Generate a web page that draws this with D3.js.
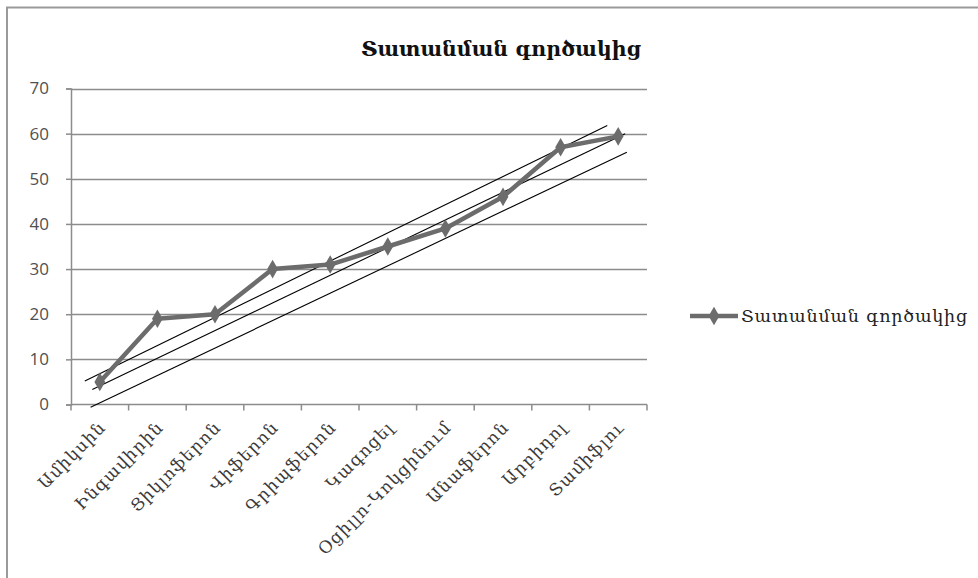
<!DOCTYPE html>
<html>
<head>
<meta charset="utf-8">
<script src="https://cdn.jsdelivr.net/npm/d3@7"></script>
<style>
  html, body { margin: 0; padding: 0; background: #fff; }
  svg { display: block; }
  .arm { font-family: "DejaVu Serif", "DejaVu Sans", serif; }
</style>
</head>
<body>
<svg id="chart" width="978" height="578"></svg>
<script>
// Drug names along the category axis
const categories = [
  "Ամիկսին", "Ինգավիրին", "Ցիկլոֆերոն", "Վիֆերոն", "Գրիպֆերոն",
  "Կագոցել", "Օցիլլո-Կոկցինում", "Անաֆերոն", "Արբիդոլ", "Տամիֆլու"
];
// Coefficient of variation per drug
const values = [5, 19, 20, 30, 31, 35, 39, 46, 57, 59.4];
const yTicks = [0, 10, 20, 30, 40, 50, 60, 70];
const seriesName = "Տատանման գործակից";
const titleText = "Տատանման գործակից";
// Hand-drawn guide lines: [category position, value] end points
const guideUpper = [[-0.26, 5.2], [8.81, 61.8]];
const guideMiddle = [[-0.13, 3.3], [9.12, 60.0]];
const guideLower = [[-0.16, -0.6], [9.15, 55.9]];

const svg = d3.select("#chart");
const plot = { left: 71, right: 647, top: 88.5, bottom: 404.5 };

// outer frame (only the top-left part falls inside the view)
svg.append("rect")
  .attr("x", 7).attr("y", 7.5).attr("width", 1000).attr("height", 600)
  .attr("fill", "none").attr("stroke", "#9a9a9a").attr("stroke-width", 2);

const band = d3.scaleBand().domain(categories).range([plot.left, plot.right]);
const xPos = d3.scaleLinear().domain([0, categories.length - 1])
  .range([band(categories[0]) + band.bandwidth() / 2,
          band(categories[categories.length - 1]) + band.bandwidth() / 2]);
const y = d3.scaleLinear().domain([0, 70]).range([plot.bottom, plot.top]);

// horizontal gridlines
svg.append("g").selectAll("line").data(yTicks.filter(d => d > 0)).join("line")
  .attr("x1", plot.left).attr("x2", plot.right)
  .attr("y1", d => Math.round(y(d)) + 0.5).attr("y2", d => Math.round(y(d)) + 0.5)
  .attr("stroke", "#8c8c8c").attr("stroke-width", 1.5);

// y axis
const yAxis = svg.append("g").attr("transform", `translate(${plot.left},0)`)
  .call(d3.axisLeft(y).tickValues(yTicks).tickSize(5).tickPadding(17));
yAxis.select(".domain").attr("stroke", "#8c8c8c").attr("stroke-width", 1.5);
yAxis.selectAll(".tick line").attr("stroke", "#8c8c8c").attr("stroke-width", 1.5);
yAxis.selectAll(".tick text")
  .attr("font-family", "'Open Sans', 'Liberation Sans', sans-serif")
  .attr("font-size", 17).attr("fill", "#505050");

// x axis with ticks at category boundaries
const xAxis = svg.append("g").attr("transform", `translate(0,${plot.bottom})`);
xAxis.append("line").attr("x1", plot.left).attr("x2", plot.right)
  .attr("stroke", "#8c8c8c").attr("stroke-width", 1.5);
const bounds = categories.map(c => band(c)).concat([plot.right]);
xAxis.selectAll("line.tk").data(bounds).join("line").attr("class", "tk")
  .attr("x1", d => d).attr("x2", d => d).attr("y1", 0).attr("y2", 6)
  .attr("stroke", "#8c8c8c").attr("stroke-width", 1.5);
xAxis.selectAll("text").data(categories).join("text")
  .attr("class", "arm")
  .attr("transform", d => `translate(${band(d) + band.bandwidth() / 2 + 7},${24}) rotate(-45)`)
  .attr("text-anchor", "end")
  .attr("font-size", 17).attr("letter-spacing", 1.2).attr("fill", "#3a3a3a")
  .text(d => d);

// guide lines
const guideLine = d3.line().x(d => xPos(d[0])).y(d => y(d[1]));
svg.append("g").selectAll("path").data([guideUpper, guideMiddle, guideLower]).join("path")
  .attr("d", guideLine).attr("fill", "none").attr("stroke", "#000").attr("stroke-width", 1.1);

// data series
const seriesColor = "#6c6c6c";
const line = d3.line().x((d, i) => xPos(i)).y(d => y(d));
svg.append("path").datum(values).attr("d", line)
  .attr("fill", "none").attr("stroke", seriesColor).attr("stroke-width", 4.5)
  .attr("stroke-linejoin", "round");
const diamond = d3.symbol().type(d3.symbolDiamond).size(100);
svg.append("g").selectAll("path").data(values).join("path")
  .attr("transform", (d, i) => `translate(${xPos(i)},${y(d)})`)
  .attr("d", diamond).attr("fill", seriesColor);

// title
svg.append("text").attr("class", "arm")
  .attr("x", 501).attr("y", 56).attr("text-anchor", "middle")
  .attr("font-size", 20.5).attr("font-weight", "bold").attr("fill", "#111")
  .text(titleText);

// legend
const lg = svg.append("g").attr("transform", "translate(690,316)");
lg.append("line").attr("x1", 0).attr("x2", 48).attr("stroke", seriesColor).attr("stroke-width", 4.5);
lg.append("path").attr("transform", "translate(24,0)").attr("d", diamond).attr("fill", seriesColor);
lg.append("text").attr("class", "arm").attr("x", 51).attr("y", 6)
  .attr("font-size", 17.5).attr("letter-spacing", 0.8).attr("fill", "#222").text(seriesName);
</script>
</body>
</html>
